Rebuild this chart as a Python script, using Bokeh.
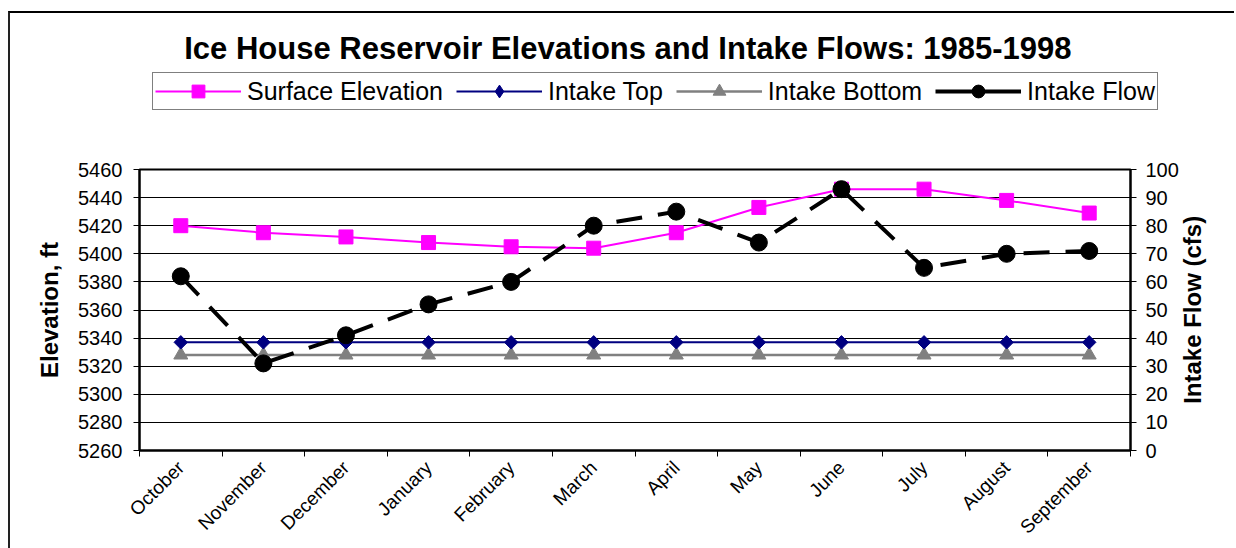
import math
from bokeh.plotting import figure
from bokeh.layouts import column
from bokeh.models import (Range1d, LinearAxis, FixedTicker, Legend, LegendItem,
                          ColumnDataSource, Label)
from bokeh.embed import file_html
from bokeh.resources import INLINE

# ---------------- data ----------------
months = ["October", "November", "December", "January", "February", "March",
          "April", "May", "June", "July", "August", "September"]
surface_elevation = [5420, 5415, 5412, 5408, 5405, 5404, 5415, 5433, 5446, 5446, 5438, 5429]
intake_top = [5337, 5337, 5337, 5337, 5337, 5337, 5337, 5337, 5337, 5337, 5337, 5337]
intake_bottom = [5328, 5328, 5328, 5328, 5328, 5328, 5328, 5328, 5328, 5328, 5328, 5328]
intake_flow = [62, 31, 41, 52, 60, 80, 85, 74, 93, 65, 70, 71]
elev_ticks = [5260, 5280, 5300, 5320, 5340, 5360, 5380, 5400, 5420, 5440, 5460]
flow_ticks = [0, 10, 20, 30, 40, 50, 60, 70, 80, 90, 100]

title_text = "Ice House Reservoir Elevations and Intake Flows: 1985-1998"
left_title = "Elevation, ft"
right_title = "Intake Flow (cfs)"
series_names = ["Surface Elevation", "Intake Top", "Intake Bottom", "Intake Flow"]

FONT = "Liberation Sans"
C_SUR, C_TOP, C_BOT, C_FLO = "#FF00FF", "#000080", "#808080", "black"

# category centres on a numeric axis
xc = [i + 0.5 for i in range(len(months))]
src = ColumnDataSource(dict(x=xc, surface=surface_elevation,
                            top=intake_top, bottom=intake_bottom, flow=intake_flow))

# ================= header figure: title + legend =================
head = figure(width=1224, height=136, output_backend="svg", toolbar_location=None, tools="",
              x_axis_type=None, y_axis_type=None,
              x_range=Range1d(0, 1), y_range=Range1d(0, 1),
              min_border_left=0, min_border_right=0, min_border_top=0, min_border_bottom=0)
head.outline_line_color = None
head.background_fill_color = "white"
head.border_fill_color = "white"
head.title.text = ""
head.title.standoff = 0
if "frame_align" in head.properties():
    head.frame_align = False

# legend proxies: same series, outside this header's ranges (invisible here)
h_sur = [head.line("x", "surface", source=src, line_color=C_SUR, line_width=2),
         head.scatter("x", "surface", source=src, marker="square",
                      fill_color=C_SUR, line_color=C_SUR)]
h_top = [head.line("x", "top", source=src, line_color=C_TOP, line_width=2),
         head.scatter("x", "top", source=src, marker="diamond",
                      fill_color=C_TOP, line_color=C_TOP)]
h_bot = [head.line("x", "bottom", source=src, line_color=C_BOT, line_width=2.5),
         head.scatter("x", "bottom", source=src, marker="triangle",
                      fill_color=C_BOT, line_color=C_BOT)]
h_flo = [head.line("x", "flow", source=src, line_color=C_FLO, line_width=4),
         head.scatter("x", "flow", source=src, marker="circle",
                      fill_color=C_FLO, line_color=C_FLO)]

legend = Legend(items=[LegendItem(label=n, renderers=r) for n, r in
                       zip(series_names, [h_sur, h_top, h_bot, h_flo])],
                orientation="horizontal", location=(142, 39), glyph_width=86, glyph_height=32,
                label_standoff=6, spacing=13, padding=2, margin=0,
                border_line_color="black", border_line_width=1,
                background_fill_color="white", background_fill_alpha=1,
                label_text_font=FONT, label_text_font_size="25px", label_text_color="black")
head.add_layout(legend)

head.add_layout(Label(x=617.4, y=101, x_units="screen", y_units="screen", text=title_text,
                      text_align="center", text_baseline="middle", text_font=FONT,
                      text_font_size="31px", text_font_style="bold", text_color="black"))

# ================= main chart =================
p = figure(width=1224, height=399, output_backend="svg", toolbar_location=None, tools="",
           x_range=Range1d(0, len(months)),
           y_range=Range1d(elev_ticks[0], elev_ticks[-1]),
           min_border_left=129, min_border_right=104, min_border_top=20, min_border_bottom=97)
p.extra_y_ranges = {"flow": Range1d(flow_ticks[0], flow_ticks[-1])}
p.outline_line_color = "black"
p.outline_line_width = 2
p.background_fill_color = "white"
p.border_fill_color = "white"
p.title.text = ""
p.title.standoff = 0
if "frame_align" in p.properties():
    p.frame_align = False

# x axis: ticks at category boundaries (minor), labels at centres
xa = p.xaxis[0]
xa.ticker = FixedTicker(ticks=xc, minor_ticks=list(range(len(months) + 1)))
xa.major_label_overrides = {float(v): m for v, m in zip(xc, months)}
xa.major_label_orientation = math.pi / 4
xa.major_label_standoff = 8
xa.major_label_text_font = FONT
xa.major_label_text_font_size = "19px"
xa.major_label_text_color = "black"
xa.major_tick_out = 0
xa.major_tick_in = 0
xa.minor_tick_out = 6
xa.minor_tick_in = 0
xa.minor_tick_line_color = "black"
xa.axis_line_width = 2
xa.axis_line_color = "black"

# left axis
ya = p.yaxis[0]
ya.ticker = FixedTicker(ticks=elev_ticks)
ya.major_tick_out = 6
ya.major_tick_in = 0
ya.major_label_standoff = 11
ya.major_label_text_font = FONT
ya.major_label_text_font_size = "20px"
ya.major_label_text_color = "black"
ya.axis_line_width = 2
ya.axis_line_color = "black"
ya.major_tick_line_color = "black"
ya.axis_label = left_title
ya.axis_label_standoff = 12
ya.axis_label_text_font = FONT
ya.axis_label_text_font_size = "24px"
ya.axis_label_text_font_style = "bold"
ya.axis_label_text_color = "black"

# right axis
ra = LinearAxis(y_range_name="flow", ticker=FixedTicker(ticks=flow_ticks))
ra.major_tick_out = 6
ra.major_tick_in = 0
ra.major_label_standoff = 9
ra.major_label_text_font = FONT
ra.major_label_text_font_size = "20px"
ra.major_label_text_color = "black"
ra.axis_line_width = 2
ra.axis_line_color = "black"
ra.major_tick_line_color = "black"
ra.axis_label_standoff = 11
ra.axis_label_text_font = FONT
ra.axis_label_text_font_size = "24px"
ra.axis_label_text_font_style = "bold"
ra.axis_label_text_color = "black"
rprops = ra.properties()
if "axis_label_orientation" in rprops and "axis_label_align" in rprops:
    # read bottom-to-top, starting from the lower end of the axis
    ra.axis_label_orientation = math.pi / 2
    ra.axis_label_align = "start"
    ra.axis_label = "\u00a0" * 7 + right_title
else:
    ra.axis_label = right_title
p.add_layout(ra, "right")

p.xgrid.grid_line_color = None
p.ygrid.ticker = FixedTicker(ticks=elev_ticks)
p.ygrid.grid_line_color = "black"
p.ygrid.grid_line_width = 1

# ---------------- series ----------------
p.line("x", "bottom", source=src, line_color=C_BOT, line_width=2.5)
p.scatter("x", "bottom", source=src, marker="triangle", size=14,
          fill_color=C_BOT, line_color=C_BOT)
p.line("x", "top", source=src, line_color=C_TOP, line_width=2)
p.scatter("x", "top", source=src, marker="square", angle=math.pi / 4, size=9.5,
          fill_color=C_TOP, line_color=C_TOP)
p.line("x", "surface", source=src, line_color=C_SUR, line_width=2)
p.scatter("x", "surface", source=src, marker="square", size=14,
          fill_color=C_SUR, line_color=C_SUR)
p.line("x", "flow", source=src, y_range_name="flow", line_color=C_FLO,
       line_width=4, line_dash="26 16")
p.scatter("x", "flow", source=src, y_range_name="flow", marker="circle", size=17,
          fill_color=C_FLO, line_color=C_FLO)

layout = column(head, p, spacing=0)
layout.styles = {"margin-top": "11px", "margin-left": "8px",
                 "border-top": "2px solid black", "border-left": "2px solid #222"}

open("out.html", "w").write(file_html(layout, INLINE))
